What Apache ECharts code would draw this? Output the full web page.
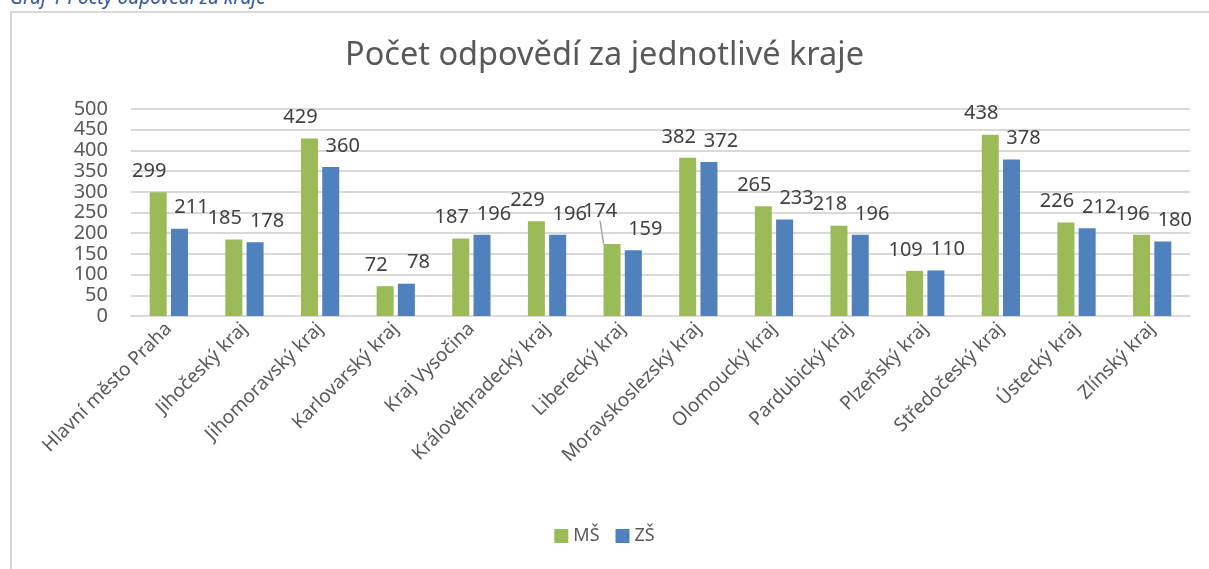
<!DOCTYPE html>
<html>
<head>
<meta charset="utf-8">
<script src="https://cdn.jsdelivr.net/npm/echarts@6/dist/echarts.min.js"></script>
<style>
  html, body { margin: 0; padding: 0; background: #fff; overflow: hidden; }
  #caption {
    position: absolute; left: 10px; top: -16px; line-height: 26px;
    font: italic 19px "Noto Sans", sans-serif; color: #2f5597; white-space: nowrap;
  }
  #box {
    position: absolute; left: 10px; top: 11px; width: 1210px; height: 570px;
    border-left: 2px solid #d9d9d9; border-top: 2px solid #d9d9d9;
  }
  #chart { position: absolute; left: 0; top: 0; width: 1209px; height: 569px; }
</style>
</head>
<body>
<div id="caption">Graf 1 Počty odpovědí za kraje</div>
<div id="box"></div>
<div id="chart"></div>
<script>
// kraje
let kraje = ['Hlavní město Praha', 'Jihočeský kraj', 'Jihomoravský kraj', 'Karlovarský kraj',
    'Kraj Vysočina', 'Královéhradecký kraj', 'Liberecký kraj', 'Moravskoslezský kraj',
    'Olomoucký kraj', 'Pardubický kraj', 'Plzeňský kraj', 'Středočeský kraj',
    'Ústecký kraj', 'Zlínský kraj'];
let ms = [299, 185, 429, 72, 187, 229, 174, 382, 265, 218, 109, 438, 226, 196];
let zs = [211, 178, 360, 78, 196, 196, 159, 372, 233, 196, 110, 378, 212, 180];
let yTicks = [0, 50, 100, 150, 200, 250, 300, 350, 400, 450, 500];

let font = '"Noto Sans", sans-serif';
let myChart = echarts.init(document.getElementById('chart'));

function labelStyle(dx) {
    return {
        show: true,
        position: 'top',
        distance: 11,
        offset: [dx, 0],
        fontSize: 20,
        color: '#404040',
        fontFamily: font
    };
}

// Liberecký (index 6) má popisek posunutý výš s odkazovou čarou
let msData = ms.map((v, i) => i === 6
    ? {value: v, labelLine: {show: true, lineStyle: {color: '#a6a6a6', width: 1.5}}}
    : v);

myChart.setOption({
    animation: false,
    title: {
        text: 'Počet odpovědí za jednotlivé kraje',
        left: 'center',
        top: 34,
        textStyle: {fontSize: 32.5, fontWeight: 'normal', color: '#595959', fontFamily: font}
    },
    legend: {
        bottom: 19,
        left: 'center',
        itemWidth: 14,
        itemHeight: 14,
        itemGap: 16,
        icon: 'rect',
        textStyle: {fontSize: 18, color: '#595959', fontFamily: font},
        data: ['MŠ', 'ZŠ']
    },
    grid: {left: 131, right: 19, top: 109, bottom: 253},
    xAxis: {
        type: 'category',
        data: kraje,
        axisLine: {lineStyle: {color: '#d9d9d9', width: 2}},
        axisTick: {show: false},
        axisLabel: {
            interval: 0,
            rotate: 45,
            fontSize: 19,
            color: '#595959',
            fontFamily: font,
            margin: 10
        }
    },
    yAxis: {
        type: 'value',
        min: yTicks[0],
        max: yTicks[yTicks.length - 1],
        interval: 50,
        axisLine: {show: false},
        axisTick: {show: false},
        splitLine: {lineStyle: {color: '#d9d9d9', width: 2}},
        axisLabel: {fontSize: 20, color: '#595959', fontFamily: font, margin: 23, lineHeight: 20}
    },
    series: [
        {
            name: 'MŠ',
            type: 'bar',
            data: msData,
            barWidth: 17,
            barGap: '25%',
            itemStyle: {color: '#9bbb59'},
            label: labelStyle(0),
            labelLine: {show: false},
            labelLayout: function (params) {
                if (params.dataIndex === 6) {
                    return {dx: -12, dy: -12};
                }
                return {dx: -9};
            }
        },
        {
            name: 'ZŠ',
            type: 'bar',
            data: zs,
            barWidth: 17,
            itemStyle: {color: '#4f81bd'},
            label: labelStyle(12)
        }
    ]
});
</script>
</body>
</html>
